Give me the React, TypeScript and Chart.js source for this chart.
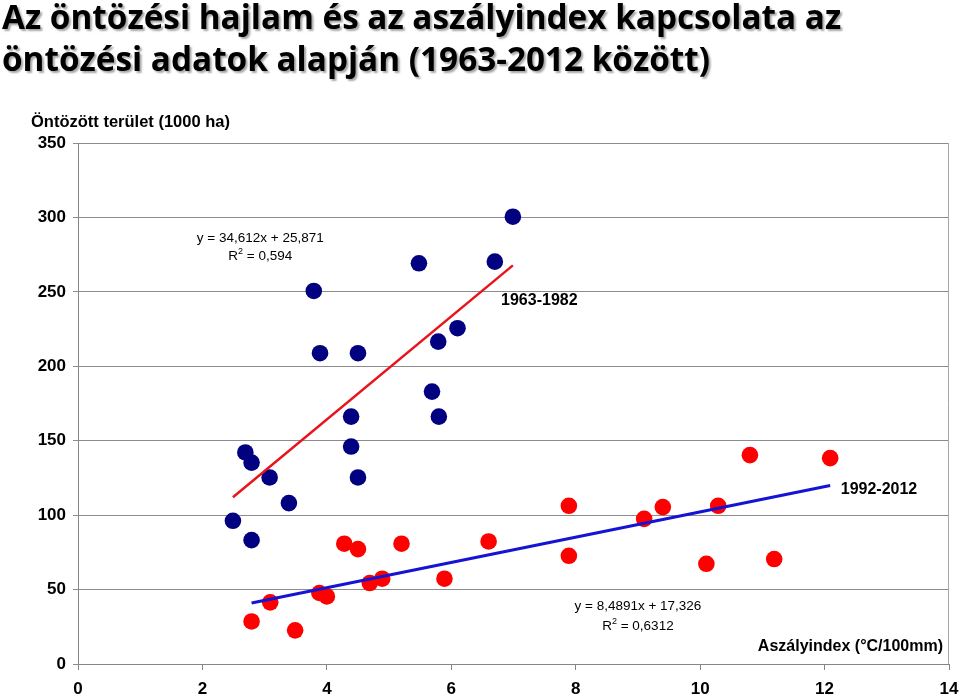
import React, { useEffect, useRef } from "react";
import { Chart, registerables } from "chart.js";

Chart.register(...registerables);

// ---- Data ----
const titleLines = [
  "Az öntözési hajlam és az aszályindex kapcsolata az",
  "öntözési adatok alapján (1963-2012 között)",
];
const yAxisTitle = "Öntözött terület (1000 ha)";
const xAxisTitle = "Aszályindex (°C/100mm)";

// 1963-1982
const earlyX = [2.49, 2.69, 2.79, 2.79, 3.08, 3.39, 3.79, 3.89, 4.39, 4.39, 4.5, 4.5, 5.48, 5.69, 5.79, 5.8, 6.1, 6.7, 6.99];
const earlyY = [96.2, 142.1, 135.3, 83.2, 125.3, 108.1, 250.6, 208.8, 166.2, 146.1, 208.8, 125.3, 269.2, 183.0, 216.6, 166.2, 225.6, 270.3, 300.5];

// 1992-2012
const lateX = [4.28, 4.5, 5.2, 6.6, 5.89, 4.69, 4.89, 3.88, 4.0, 3.09, 2.79, 3.49, 7.89, 7.89, 9.1, 9.4, 10.29, 10.1, 10.8, 12.09, 11.19];
const lateY = [80.8, 77.2, 80.8, 82.3, 57.3, 54.4, 57.3, 47.7, 45.4, 41.4, 28.6, 22.6, 106.3, 72.7, 97.5, 105.4, 106.3, 67.3, 140.3, 138.3, 70.5];

// Trendline coefficients (as printed)
const earlySlope = 34.612;
const earlyIntercept = 25.871;
const lateSlope = 8.4891;
const lateIntercept = 17.326;

const earlyEquation = ["y = 34,612x + 25,871", "R² = 0,594"];
const lateEquation = ["y = 8,4891x + 17,326", "R² = 0,6312"];
const earlyLabel = "1963-1982";
const lateLabel = "1992-2012";

const xTicks = { min: 0, max: 14, step: 2 };
const yTicks = { min: 0, max: 350, step: 50 };

function toPoints(xs: number[], ys: number[]) {
  return xs.map((x, i) => ({ x, y: ys[i] }));
}
function trend(xs: number[], a: number, b: number) {
  const lo = Math.min(...xs);
  const hi = Math.max(...xs);
  return [
    { x: lo, y: a * lo + b },
    { x: hi, y: a * hi + b },
  ];
}

const textPlugin = {
  id: "texts",
  afterDraw(chart: any) {
    const ctx = chart.ctx as CanvasRenderingContext2D;
    const xs = chart.scales.x;
    const ys = chart.scales.y;
    const area = chart.chartArea;
    ctx.save();

    // right border
    ctx.strokeStyle = "#a6a6a6";
    ctx.lineWidth = 1;
    ctx.beginPath();
    ctx.moveTo(Math.round(area.right) - 0.5, area.top);
    ctx.lineTo(Math.round(area.right) - 0.5, area.bottom);
    ctx.stroke();

    // Title with shadow
    ctx.save();
    ctx.font = "bold 33.3px 'Open Sans', Lato, sans-serif";
    ctx.fillStyle = "#000";
    ctx.textAlign = "left";
    ctx.textBaseline = "alphabetic";
    ctx.shadowColor = "rgba(0,0,0,0.35)";
    ctx.shadowOffsetX = 2;
    ctx.shadowOffsetY = 2;
    ctx.shadowBlur = 2;
    ctx.fillText(titleLines[0], 2, 29);
    ctx.fillText(titleLines[1], 2, 71);
    ctx.restore();

    // Y axis title
    ctx.fillStyle = "#000";
    ctx.font = "bold 16.5px 'Liberation Sans', Arial, sans-serif";
    ctx.textAlign = "left";
    ctx.textBaseline = "alphabetic";
    ctx.fillText(yAxisTitle, 31, 127);

    // X axis title
    ctx.font = "bold 16px 'Liberation Sans', Arial, sans-serif";
    ctx.textAlign = "right";
    ctx.fillText(xAxisTitle, 943, 651);

    // Series labels
    ctx.textAlign = "left";
    ctx.fillText(earlyLabel, xs.getPixelForValue(6.80), ys.getPixelForValue(241));
    ctx.fillText(lateLabel, xs.getPixelForValue(12.26), ys.getPixelForValue(114));

    // Equations
    ctx.font = "13.5px 'Liberation Sans', Arial, sans-serif";
    ctx.textAlign = "center";
    const e1x = xs.getPixelForValue(2.93);
    ctx.fillText(earlyEquation[0], e1x, ys.getPixelForValue(283.5));
    drawR2(ctx, earlyEquation[1], e1x, ys.getPixelForValue(271.5));
    const e2x = xs.getPixelForValue(9.0);
    ctx.fillText(lateEquation[0], e2x, ys.getPixelForValue(36.2));
    drawR2(ctx, lateEquation[1], e2x, ys.getPixelForValue(22.9));

    ctx.restore();
  },
};

function drawR2(ctx: CanvasRenderingContext2D, text: string, cx: number, y: number) {
  const rest = text.replace("R²", "");
  const baseFont = ctx.font;
  const wR = ctx.measureText("R").width;
  ctx.font = "9px 'Liberation Sans', Arial, sans-serif";
  const w2 = ctx.measureText("2").width;
  ctx.font = baseFont;
  const wRest = ctx.measureText(rest).width;
  const total = wR + w2 + wRest;
  let x = cx - total / 2;
  ctx.textAlign = "left";
  ctx.fillText("R", x, y);
  x += wR;
  ctx.font = "9px 'Liberation Sans', Arial, sans-serif";
  ctx.fillText("2", x, y - 6);
  x += w2;
  ctx.font = baseFont;
  ctx.fillText(rest, x, y);
  ctx.textAlign = "center";
}

export default function App() {
  const ref = useRef<HTMLCanvasElement | null>(null);
  useEffect(() => {
    if (!ref.current) return;
    const tickFont = { family: "'Liberation Sans', Arial, sans-serif", size: 17, weight: "bold" as const };
    const chart = new Chart(ref.current, {
      type: "scatter",
      data: {
        datasets: [
          {
            type: "line",
            label: "trend early",
            data: trend(earlyX, earlySlope, earlyIntercept),
            borderColor: "#e8141b",
            borderWidth: 2.5,
            pointRadius: 0,
            fill: false,
            order: 0,
          } as any,
          {
            type: "line",
            label: "trend late",
            data: trend(lateX, lateSlope, lateIntercept),
            borderColor: "#1414d2",
            borderWidth: 3,
            pointRadius: 0,
            fill: false,
            order: 0,
          } as any,
          {
            label: earlyLabel,
            data: toPoints(earlyX, earlyY),
            backgroundColor: "#000080",
            borderWidth: 0,
            pointRadius: 8.3,
            order: 1,
          },
          {
            label: lateLabel,
            data: toPoints(lateX, lateY),
            backgroundColor: "#ff0000",
            borderWidth: 0,
            pointRadius: 8.3,
            order: 1,
          },
        ],
      },
      options: {
        animation: false,
        responsive: false,
        devicePixelRatio: 1,
        layout: { padding: { top: 143, right: 0, left: 0, bottom: 0 } },
        plugins: {
          legend: { display: false },
          tooltip: { enabled: false },
          title: { display: false },
        },
        scales: {
          x: {
            type: "linear",
            min: xTicks.min,
            max: xTicks.max,
            ticks: { stepSize: xTicks.step, font: tickFont, color: "#000", padding: 9, maxRotation: 0 },
            grid: { drawOnChartArea: false, drawTicks: true, tickLength: 6, color: "#868686" },
            border: { color: "#868686", width: 1 },
            afterFit(s: any) {
              s.height = 32;
              s.paddingRight = 10;
              s.paddingLeft = 0;
            },
          },
          y: {
            type: "linear",
            min: yTicks.min,
            max: yTicks.max,
            ticks: { stepSize: yTicks.step, font: tickFont, color: "#000", padding: 7 },
            grid: { color: "#8c8c8c", tickLength: 5, drawTicks: true },
            border: { color: "#868686", width: 1 },
            afterFit(s: any) {
              s.width = 78;
              s.paddingTop = 0;
              s.paddingBottom = 0;
            },
          },
        },
      },
      plugins: [textPlugin],
    });
    return () => chart.destroy();
  }, []);
  return (
    <div style={{ position: "absolute", left: 0, top: 0, width: 959, height: 696, background: "#fff" }}>
      <canvas ref={ref} width={959} height={696} />
    </div>
  );
}
